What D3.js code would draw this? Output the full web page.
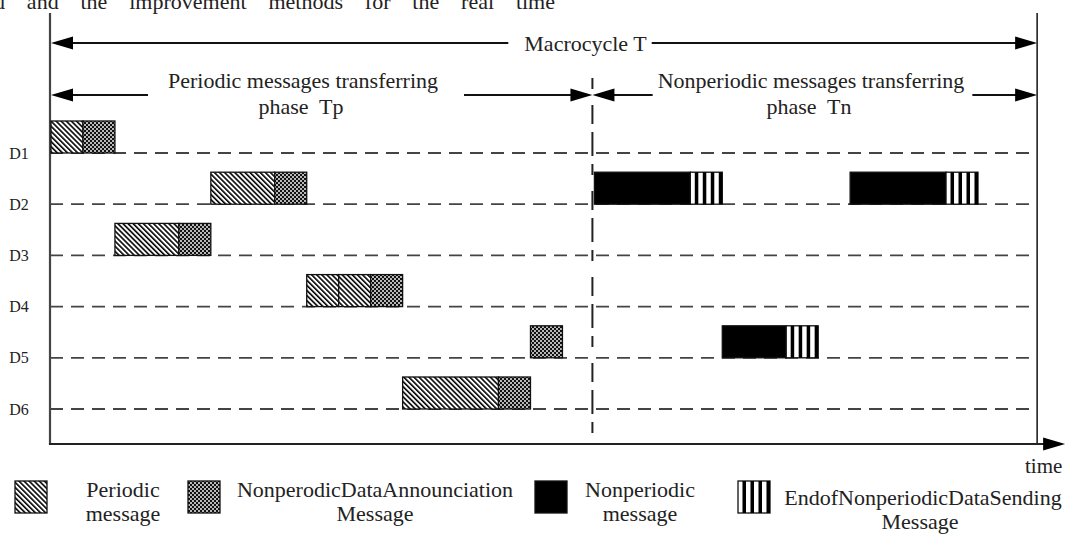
<!DOCTYPE html>
<html>
<head>
<meta charset="utf-8">
<script src="https://cdn.jsdelivr.net/npm/d3@7"></script>
<style>
  body { margin: 0; background: #fff; }
  svg { display: block; }
  text { font-family: "Liberation Serif", "Times New Roman", serif; fill: #222; }
</style>
</head>
<body>
<div id="chart"></div>
<script>
// Devices on the bus and the message slots (in time units) for each of them.
var devices = ["D1", "D2", "D3", "D4", "D5", "D6"];
var periodicMsgs    = [["D1", 0, 1], ["D2", 5, 7], ["D3", 2, 4], ["D4", 8, 9], ["D4", 9, 10], ["D6", 11, 14]];
var announceMsgs    = [["D1", 1, 2], ["D2", 7, 8], ["D3", 4, 5], ["D4", 10, 11], ["D5", 15, 16], ["D6", 14, 15]];
var nonperiodicMsgs = [["D2", 17, 20], ["D2", 25, 28], ["D5", 21, 23]];
var endMsgs         = [["D2", 20, 21], ["D2", 28, 29], ["D5", 23, 24]];
var macrocycle = [0, 30.85];            // start and end of the macrocycle T
var phaseSplit = 17;                    // Tp ends, Tn begins
var phaseLabels = [["Periodic messages transferring", "phase\u00a0 Tp"],
                   ["Nonperiodic messages transferring", "phase\u00a0 Tn"]];
var legendLabels = [["Periodic", "message"], ["NonperodicDataAnnounciation", "Message"],
                    ["Nonperiodic", "message"], ["EndofNonperiodicDataSending", "Message"]];
var captionText = "d and the improvement methods for the real time";

var width = 1066, height = 536;
var boxH = 32,
    fontSize = 22,
    arrowLen = 22,
    arrowHalf = 6.5;

var svg = d3.select("#chart").append("svg")
    .attr("width", width)
    .attr("height", height);

var x = d3.scaleLinear().domain([0, 29]).range([51, 978]);
var y = d3.scalePoint().domain(devices).range([153, 409]);

var axisTop = 13, axisBottom = 444, axisLeft = 50;
var xEnd = x(macrocycle[1]);

// patterns
var defs = svg.append("defs");
var hatch = defs.append("pattern")
    .attr("id", "hatch")
    .attr("patternUnits", "userSpaceOnUse")
    .attr("width", 3.6).attr("height", 3.6)
    .attr("patternTransform", "rotate(-45)");
hatch.append("rect").attr("width", 3.6).attr("height", 3.6).attr("fill", "#fff");
hatch.append("rect").attr("width", 1.6).attr("height", 3.6).attr("fill", "#000");

var dots = defs.append("pattern")
    .attr("id", "dots")
    .attr("patternUnits", "userSpaceOnUse")
    .attr("width", 4).attr("height", 4);
dots.append("rect").attr("width", 4).attr("height", 4).attr("fill", "#111");
dots.selectAll("circle").data([[1, 1], [3, 3]]).enter().append("circle")
    .attr("cx", function(d) { return d[0]; })
    .attr("cy", function(d) { return d[1]; })
    .attr("r", 0.95)
    .attr("fill", "#fff");

// caption line cut off at the top of the picture
var cap = svg.append("text")
    .attr("x", -6).attr("y", 9)
    .attr("font-size", fontSize)
    .text(captionText);
var natural = cap.node().getComputedTextLength();
var nSpaces = captionText.split(" ").length - 1;
cap.attr("word-spacing", (561 - natural) / nSpaces);

// frame: left axis, time axis, end of macrocycle
svg.append("line")
    .attr("x1", axisLeft).attr("x2", axisLeft)
    .attr("y1", axisTop).attr("y2", axisBottom + 1)
    .attr("stroke", "#444").attr("stroke-width", 2.2);
svg.append("line")
    .attr("x1", xEnd).attr("x2", xEnd)
    .attr("y1", axisTop).attr("y2", axisBottom)
    .attr("stroke", "#222").attr("stroke-width", 1.6);
svg.append("line")
    .attr("x1", axisLeft - 1).attr("x2", xEnd + 14)
    .attr("y1", axisBottom).attr("y2", axisBottom)
    .attr("stroke", "#222").attr("stroke-width", 2);

var arrowHead = function(tipX, tipY, dir) {
    // dir = 1 points right, -1 points left
    svg.append("path")
       .attr("d", "M" + tipX + "," + tipY +
                  "L" + (tipX - dir * arrowLen) + "," + (tipY - arrowHalf) +
                  "L" + (tipX - dir * arrowLen) + "," + (tipY + arrowHalf) + "Z")
       .attr("fill", "#000");
};
var hLine = function(x1, x2, yy) {
    svg.append("line")
       .attr("x1", x1).attr("x2", x2)
       .attr("y1", yy).attr("y2", yy)
       .attr("stroke", "#111").attr("stroke-width", 2);
};
arrowHead(xEnd + 28, axisBottom, 1);

// device lines
svg.selectAll(".devline").data(devices).enter().append("line")
    .attr("class", "devline")
    .attr("x1", axisLeft).attr("x2", xEnd)
    .attr("y1", function(d) { return y(d); })
    .attr("y2", function(d) { return y(d); })
    .attr("stroke", "#444")
    .attr("stroke-width", 1.8)
    .attr("stroke-dasharray", "13,8");

svg.selectAll(".devlabel").data(devices).enter().append("text")
    .attr("class", "devlabel")
    .attr("x", 19)
    .attr("y", function(d) { return y(d); })
    .attr("dy", "0.35em")
    .attr("text-anchor", "middle")
    .attr("font-size", 16)
    .text(function(d) { return d; });

// separator between the two phases
var xs = x(phaseSplit) - 2;
svg.append("line")
    .attr("x1", xs).attr("x2", xs)
    .attr("y1", 78).attr("y2", axisBottom)
    .attr("stroke", "#222").attr("stroke-width", 2)
    .attr("stroke-dasharray", "11,16,19,8,24,8");

// macrocycle arrow
var yTop = 43;
var macroMid = 585.5;
var macro = svg.append("text")
    .attr("x", macroMid).attr("y", yTop + 8)
    .attr("text-anchor", "middle")
    .attr("font-size", fontSize)
    .text("Macrocycle T");
var mw = macro.node().getComputedTextLength();
hLine(x(macrocycle[0]) + 4, macroMid - mw / 2 - 16, yTop);
hLine(macroMid + mw / 2 + 5, xEnd - 4, yTop);
arrowHead(x(macrocycle[0]), yTop, -1);
arrowHead(xEnd, yTop, 1);

// phase arrows
var yPh = 95;
var phaseSpans = [[macrocycle[0], phaseSplit, 303, 20, 26], [phaseSplit, macrocycle[1], 811, 5, 8]];
phaseSpans.forEach(function(p, i) {
    var a = (i === 0 ? x(p[0]) : xs), b = (i === 0 ? xs : xEnd);
    var t1 = svg.append("text")
        .attr("x", p[2]).attr("y", yPh - 7)
        .attr("text-anchor", "middle")
        .attr("font-size", fontSize)
        .text(phaseLabels[i][0]);
    svg.append("text")
        .attr("x", p[2] - 2).attr("y", yPh + 19)
        .attr("text-anchor", "middle")
        .attr("font-size", fontSize)
        .text(phaseLabels[i][1]);
    var w = t1.node().getComputedTextLength();
    hLine(a + 4, p[2] - w / 2 - p[3], yPh);
    hLine(p[2] + w / 2 + p[4], b - 4, yPh);
    arrowHead(a, yPh, -1);
    arrowHead(b, yPh, 1);
});

// message boxes
var drawBoxes = function(data, fill) {
    return svg.selectAll(null).data(data).enter().append("rect")
        .attr("x", function(d) { return x(d[1]); })
        .attr("y", function(d) { return y(d[0]) - boxH; })
        .attr("width", function(d) { return x(d[2]) - x(d[1]); })
        .attr("height", boxH)
        .attr("fill", fill)
        .attr("stroke", "#111")
        .attr("stroke-width", 1.3);
};
drawBoxes(periodicMsgs, "url(#hatch)");
drawBoxes(announceMsgs, "url(#dots)");
drawBoxes(nonperiodicMsgs, "#000");
drawBoxes(endMsgs, "#fff");

var drawStripes = function(x0, y0, w, h) {
    var step = w / 4;
    svg.selectAll(null).data(d3.range(4)).enter().append("rect")
        .attr("x", function(k) { return x0 + k * step + step * 0.56; })
        .attr("y", y0)
        .attr("width", step * 0.44)
        .attr("height", h)
        .attr("fill", "#000");
};
endMsgs.forEach(function(d) {
    drawStripes(x(d[1]), y(d[0]) - boxH, x(d[2]) - x(d[1]), boxH);
});

// legend
var legendSwatchX = [15, 188, 535, 738];
var legendTextX = [123, 375, 640, 923];
var legendTextY = [[497, 521], [497, 521], [497, 521], [505, 529]];
var swY = 481, swS = 32;
var swFills = ["url(#hatch)", "url(#dots)", "#000", "#fff"];
legendLabels.forEach(function(lbl, i) {
    svg.append("rect")
        .attr("x", legendSwatchX[i]).attr("y", swY)
        .attr("width", swS).attr("height", swS)
        .attr("fill", swFills[i])
        .attr("stroke", "#111").attr("stroke-width", 1.3);
    if (i === 3) drawStripes(legendSwatchX[i], swY, swS, swS);
    lbl.forEach(function(s, j) {
        svg.append("text")
            .attr("x", legendTextX[i] - (i === 3 && j === 1 ? 3 : 0))
            .attr("y", legendTextY[i][j])
            .attr("text-anchor", "middle")
            .attr("font-size", fontSize)
            .text(s);
    });
});

svg.append("text")
    .attr("x", 1025).attr("y", 473)
    .attr("font-size", 21)
    .text("time");
</script>
</body>
</html>
